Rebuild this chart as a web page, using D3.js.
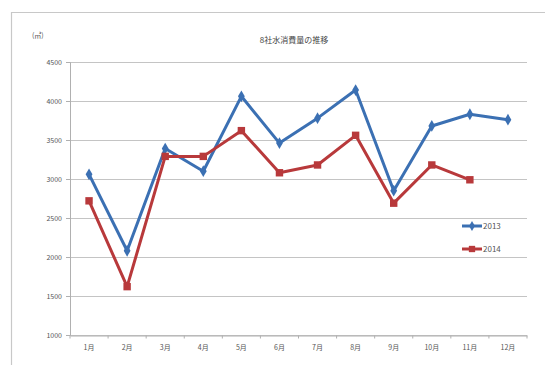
<!DOCTYPE html>
<html>
<head>
<meta charset="utf-8">
<script src="https://cdn.jsdelivr.net/npm/d3@7"></script>
<style>
  body { margin: 0; background: #fff; }
  text { font-family: "Noto Sans CJK JP", "DejaVu Sans", sans-serif; }
</style>
</head>
<body>
<svg id="chart"></svg>
<script>
var months = ["1月","2月","3月","4月","5月","6月","7月","8月","9月","10月","11月","12月"];
var yTicks = [1000,1500,2000,2500,3000,3500,4000,4500];
var seriesNames = ["2013","2014"];
var values2013 = [3060,2080,3390,3100,4060,3460,3780,4140,2850,3680,3830,3760];
var values2014 = [2720,1620,3290,3290,3620,3080,3180,3560,2690,3180,2990];
var colors = ["#3b70b3","#b8393b"];

var width = 545, height = 365;
var margin = {top: 62, right: 18, bottom: 30, left: 70};

var svg = d3.select("#chart")
    .attr("width", width)
    .attr("height", height);

// outer frame (only top and left are visible in the crop)
svg.append("path")
    .attr("d", "M11.5," + height + "V12.5H" + width)
    .attr("fill", "none")
    .attr("stroke", "#c8c8c8")
    .attr("stroke-width", 1.2);

var x = d3.scaleBand()
    .domain(months)
    .range([margin.left, width - margin.right]);

var y = d3.scaleLinear()
    .domain([1000, 4500])
    .range([height - margin.bottom, margin.top]);

// gridlines
svg.append("g")
    .selectAll("line")
    .data(yTicks)
    .enter()
    .append("line")
    .attr("x1", margin.left)
    .attr("x2", width - margin.right)
    .attr("y1", function(d) { return Math.round(y(d)) + 0.5; })
    .attr("y2", function(d) { return Math.round(y(d)) + 0.5; })
    .attr("stroke", "#c4c4c4")
    .attr("stroke-width", 1.2);

// y axis
var yAxis = svg.append("g")
    .attr("transform", "translate(" + margin.left + ",0)")
    .call(d3.axisLeft(y).tickValues(yTicks).tickFormat(d3.format("d")).tickSize(4).tickPadding(4));
yAxis.select(".domain").attr("stroke", "#b0b0b0");
yAxis.selectAll(".tick line").attr("stroke", "#b0b0b0");
yAxis.selectAll("text")
    .attr("font-size", "7px")
    .attr("fill", "#555");

// x axis
var xAxis = svg.append("g")
    .attr("transform", "translate(0," + (Math.round(y(1000)) + 0.5) + ")")
    .call(d3.axisBottom(x).tickSize(0).tickPadding(10));
xAxis.select(".domain").attr("stroke", "#b0b0b0");
xAxis.selectAll("text")
    .attr("font-size", "7px")
    .attr("fill", "#555");
// tick marks at category boundaries
xAxis.selectAll(".bound")
    .data(months.concat(["end"]))
    .enter()
    .append("line")
    .attr("class", "bound")
    .attr("x1", function(d, i) { return margin.left + i * x.step(); })
    .attr("x2", function(d, i) { return margin.left + i * x.step(); })
    .attr("y1", 0)
    .attr("y2", 3)
    .attr("stroke", "#b0b0b0");

// title and unit
svg.append("text")
    .text("8社水消費量の推移")
    .attr("x", 294)
    .attr("y", 43)
    .attr("text-anchor", "middle")
    .attr("font-size", "8px")
    .attr("fill", "#444");

svg.append("text")
    .text("(㎥)")
    .attr("x", 32)
    .attr("y", 38)
    .attr("font-size", "7px")
    .attr("fill", "#555");

// lines and markers
var allSeries = [values2013, values2014];
var line = d3.line()
    .x(function(d, i) { return x(months[i]) + x.bandwidth() / 2; })
    .y(function(d) { return y(d); });

allSeries.forEach(function(vals, s) {
    svg.append("path")
        .datum(vals)
        .attr("fill", "none")
        .attr("stroke", colors[s])
        .attr("stroke-width", 3)
        .attr("stroke-linejoin", "round")
        .attr("d", line);

    var sym = s === 0 ? d3.symbolDiamond : d3.symbolSquare;
    var size = s === 0 ? 40 : 55;
    svg.append("g")
        .selectAll("path")
        .data(vals)
        .enter()
        .append("path")
        .attr("d", d3.symbol().type(sym).size(size))
        .attr("transform", function(d, i) {
            return "translate(" + (x(months[i]) + x.bandwidth() / 2) + "," + y(d) + ")";
        })
        .attr("fill", colors[s]);
});

// legend
var legend = svg.append("g");
seriesNames.forEach(function(name, s) {
    var ly = 226 + s * 23;
    legend.append("line")
        .attr("x1", 462).attr("x2", 482)
        .attr("y1", ly).attr("y2", ly)
        .attr("stroke", colors[s])
        .attr("stroke-width", 3);
    legend.append("path")
        .attr("d", d3.symbol().type(s === 0 ? d3.symbolDiamond : d3.symbolSquare).size(s === 0 ? 30 : 40))
        .attr("transform", "translate(472," + ly + ")")
        .attr("fill", colors[s]);
    legend.append("text")
        .text(name)
        .attr("x", 483)
        .attr("y", ly + 3)
        .attr("font-size", "8px")
        .attr("fill", "#555");
});
</script>
</body>
</html>
